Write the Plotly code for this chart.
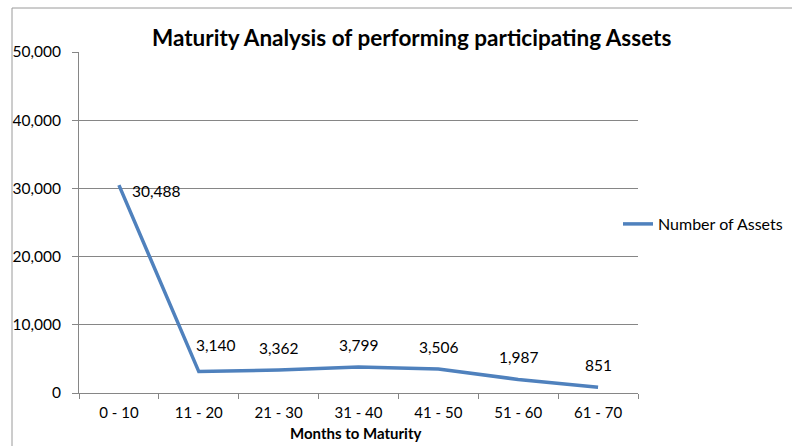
import plotly.graph_objects as go

categories = ["0 - 10", "11 - 20", "21 - 30", "31 - 40", "41 - 50", "51 - 60", "61 - 70"]
assets = [30488, 3140, 3362, 3799, 3506, 1987, 851]
y_ticks = [0, 10000, 20000, 30000, 40000, 50000]
y_tick_labels = ["0", "10,000", "20,000", "30,000", "40,000", "50,000"]

FONT = "Lato"
W, H = 801, 446
# plot area in pixels
L, R, T, B = 79, 638, 52, 393

def px_x(p):
    return (p - L) / (R - L)

def px_y(p):
    return (B - p) / (B - T)

fig = go.Figure()
fig.add_trace(go.Scatter(
    x=categories, y=assets, mode="lines", name="Number of Assets",
    line=dict(color="#4F81BD", width=3.5),
))

# label offsets (pixels) per point: (xanchor, xshift, yshift)
label_offsets = [("left", 11, -6), ("center", 17, 27), ("center", 0, 22), ("center", 0, 22),
                 ("center", 0, 22), ("center", 0, 22), ("center", 0, 22)]

annotations = []
for c, v, (xa, xs, ys) in zip(categories, assets, label_offsets):
    annotations.append(dict(x=c, y=v, text=f"{v:,}", showarrow=False,
                            xanchor=xa, yanchor="middle", xshift=xs, yshift=ys,
                            font=dict(family=FONT, size=15.5, color="#000")))
annotations.append(dict(xref="paper", yref="paper", x=px_x(355), y=px_y(433), text="<b>Months to Maturity</b>",
                        showarrow=False, xanchor="center", yanchor="middle",
                        font=dict(family=FONT, size=15, color="#000")))
annotations.append(dict(xref="paper", yref="paper", x=px_x(411), y=px_y(37),
                        text="<b>Maturity Analysis of performing participating Assets</b>",
                        showarrow=False, xanchor="center", yanchor="middle",
                        font=dict(family=FONT, size=22.5, color="#000")))

shapes = [
    dict(type="line", xref="paper", yref="paper", x0=px_x(12), x1=px_x(12), y0=px_y(8), y1=px_y(460),
         line=dict(color="#9a9a9a", width=1)),
    dict(type="line", xref="paper", yref="paper", x0=px_x(12), x1=px_x(792), y0=px_y(8), y1=px_y(8),
         line=dict(color="#9a9a9a", width=1)),
]

fig.update_layout(
    width=W, height=H,
    margin=dict(l=L, r=W - R, t=T, b=H - B, pad=0, autoexpand=False),
    paper_bgcolor="white", plot_bgcolor="white",
    font=dict(family=FONT, size=15, color="#000"),
    showlegend=True,
    legend=dict(x=px_x(618), y=px_y(224), xanchor="left", yanchor="middle",
                font=dict(family=FONT, size=16, color="#000"), bgcolor="rgba(0,0,0,0)",
                itemwidth=30),
    annotations=annotations,
    shapes=shapes,
    xaxis=dict(type="category", range=[-0.5, 6.5], showline=True, linecolor="#868686", linewidth=1,
               ticks="outside", tickson="boundaries", ticklen=5, tickcolor="#868686",
               showgrid=False, tickfont=dict(family=FONT, size=15), ticklabelstandoff=6,
               automargin=False),
    yaxis=dict(range=[0, 50000], tickvals=y_ticks, ticktext=y_tick_labels, showline=True,
               linecolor="#868686", linewidth=1, ticks="outside", ticklen=6, tickcolor="#868686",
               showgrid=True, gridcolor="#868686", gridwidth=1, zeroline=False,
               tickfont=dict(family=FONT, size=15.5), ticklabelstandoff=8, automargin=False),
)

fig.write_html(
    "out.html",
    config={"displayModeBar": False},
    post_script="document.body.style.margin='0';document.body.style.overflow='hidden';",
)
